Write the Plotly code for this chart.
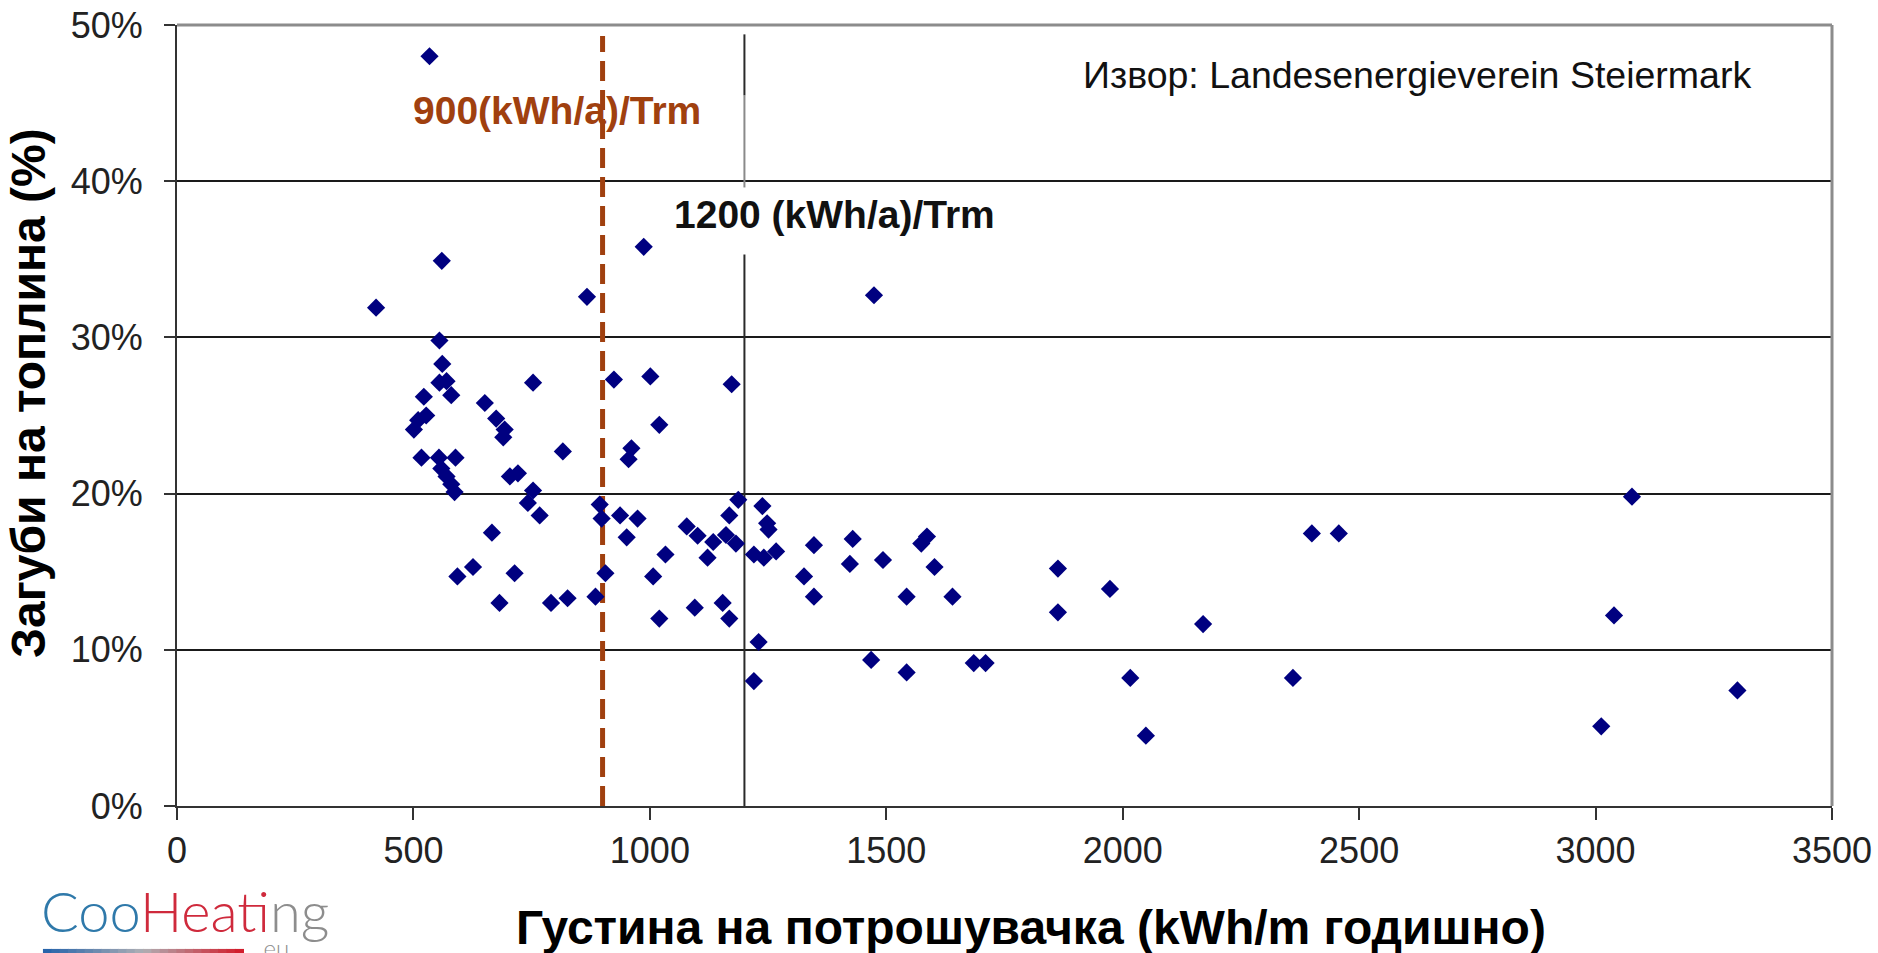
import plotly.graph_objects as go

# ---- data ----
density = [421, 534, 560, 555, 561, 555, 570, 580, 522, 527, 510, 501,
           651, 675, 693, 690, 753, 816, 517, 554, 589, 559, 570, 580, 587,
           704, 721, 753, 742, 767, 894, 898, 666, 626, 593, 714, 682, 791,
           826, 885, 906, 867, 987, 924, 1001, 1020, 961, 955, 937, 974, 951,
           1033, 1007, 1020, 1095, 1078, 1101, 1134, 1161, 1182, 1173, 1187,
           1238, 1168, 1248, 1251, 1122, 1220, 1241, 1267, 1347, 1429, 1586,
           1574, 1326, 1423, 1493, 1602, 1863, 1973, 1347, 1543, 1640, 1863,
           2170, 1154, 1168, 1230, 1220, 1468, 1543, 1685, 1710, 2016, 2049,
           2360, 2400, 2457, 3077, 3039, 3012, 3300, 1474]
losses = [31.9, 48.0, 34.9, 29.8, 28.3, 27.1, 27.2, 26.3, 26.2, 25.0, 24.7, 24.1,
          25.8, 24.8, 24.1, 23.6, 27.1, 22.7, 22.3, 22.3, 22.3, 21.6, 21.1, 20.6, 20.1,
          21.1, 21.3, 20.2, 19.4, 18.6, 19.3, 18.4, 17.5, 15.3, 14.7, 14.9, 13.0, 13.0,
          13.3, 13.4, 14.9, 32.6, 35.8, 27.3, 27.5, 24.4, 22.9, 22.2, 18.6, 18.4, 17.2,
          16.1, 14.7, 12.0, 12.7, 17.9, 17.3, 16.9, 17.35, 16.8, 27.0, 19.6,
          19.2, 18.6, 18.1, 17.7, 15.9, 16.1, 15.9, 16.3, 16.7, 17.1, 17.25,
          16.8, 14.7, 15.5, 15.75, 15.3, 15.2, 13.9, 13.4, 13.4, 13.4, 12.4,
          11.65, 13.0, 12.0, 10.5, 8.0, 9.35, 8.55, 9.15, 9.15, 8.2, 4.5,
          8.2, 17.45, 17.45, 19.8, 12.2, 5.1, 7.4, 32.7]

x_ticks = [0, 500, 1000, 1500, 2000, 2500, 3000, 3500]
y_ticks = [0, 10, 20, 30, 40, 50]
y_tick_labels = ["0%", "10%", "20%", "30%", "40%", "50%"]

limit_low = 900
limit_high = 1200
limit_low_label = "900(kWh/a)/Trm"
limit_high_label = "1200 (kWh/a)/Trm"
source_label = "Извор: Landesenergieverein Steiermark"
x_title = "Густина на потрошувачка (kWh/m годишно)"
y_title = "Загуби на топлина (%)"

FONT = "Liberation Sans, Arial, Helvetica, sans-serif"
BROWN = "#A0400F"
NAVY = "#000080"

fig = go.Figure()
fig.add_trace(go.Scatter(
    x=density, y=losses, mode="markers",
    marker=dict(symbol="diamond", size=14, color=NAVY, line=dict(width=0)),
    hoverinfo="skip", showlegend=False,
))

shapes = []
# dashed 900 line
shapes.append(dict(type="line", xref="x", yref="y", x0=limit_low, x1=limit_low, y0=0, y1=49.3,
                   line=dict(color=BROWN, width=5, dash="20px,9px"), layer="between"))
# 1200 line segments (with gap behind the label)
shapes.append(dict(type="line", xref="x", yref="y", x0=limit_high, x1=limit_high, y0=0, y1=35.3,
                   line=dict(color="#2a2a2a", width=2), layer="between"))
shapes.append(dict(type="line", xref="x", yref="y", x0=limit_high, x1=limit_high, y0=39.6, y1=45.5,
                   line=dict(color="#8a8a8a", width=2), layer="between"))
shapes.append(dict(type="line", xref="x", yref="y", x0=limit_high, x1=limit_high, y0=45.5, y1=49.4,
                   line=dict(color="#2a2a2a", width=2), layer="between"))
# top and right frame (grey)
shapes.append(dict(type="line", xref="paper", yref="paper", x0=0, x1=1, y0=1, y1=1,
                   line=dict(color="#8c8c8c", width=3), layer="above"))
shapes.append(dict(type="line", xref="paper", yref="paper", x0=1, x1=1, y0=0, y1=1,
                   line=dict(color="#8c8c8c", width=3), layer="above"))

# logo gradient bar
n_seg = 24
bx0, bx1 = -0.081, 0.040
by0, by1 = -0.1905, -0.1830
def lerp(a, b, t):
    return tuple(int(round(a[i] + (b[i] - a[i]) * t)) for i in range(3))
c_blue, c_grey, c_red = (40, 100, 170), (175, 175, 180), (210, 30, 45)
for i in range(n_seg):
    t = i / (n_seg - 1)
    c = lerp(c_blue, c_grey, t * 2) if t < 0.5 else lerp(c_grey, c_red, (t - 0.5) * 2)
    xa = bx0 + (bx1 - bx0) * i / n_seg
    xb = bx0 + (bx1 - bx0) * (i + 1) / n_seg
    shapes.append(dict(type="rect", xref="paper", yref="paper", x0=xa, x1=xb + 0.0005,
                       y0=by0, y1=by1, line=dict(width=0),
                       fillcolor="rgb(%d,%d,%d)" % c, layer="above"))

annotations = [
    dict(text=limit_low_label, x=803, y=44.5, xref="x", yref="y", showarrow=False,
         font=dict(family=FONT, size=39, color=BROWN, weight="bold"), xanchor="center", yanchor="middle"),
    dict(text=limit_high_label, x=1391, y=37.85, xref="x", yref="y", showarrow=False,
         font=dict(family=FONT, size=39, color="#111111", weight="bold"), xanchor="center", yanchor="middle"),
    dict(text=source_label, x=2622, y=46.8, xref="x", yref="y", showarrow=False,
         font=dict(family=FONT, size=37.5, color="#111111"), xanchor="center", yanchor="middle"),
    dict(text=y_title, x=-0.090, y=0.5288, xref="paper", yref="paper", showarrow=False,
         textangle=-90, font=dict(family=FONT, size=48, color="#000000", weight="bold"),
         xanchor="center", yanchor="middle"),
    dict(text=x_title, x=0.5158, y=-0.155, xref="paper", yref="paper", showarrow=False,
         font=dict(family=FONT, size=48, color="#000000", weight="bold"),
         xanchor="center", yanchor="middle"),
    dict(text="<span style='color:#2f79aa'>Coo</span><span style='color:#cf2a3c'>Heat</span>"
              "<span style='color:#8d8d8d'>ing</span>",
         x=-0.0835, y=-0.088, xref="paper", yref="paper", showarrow=False,
         font=dict(family="Lato, Noto Sans, sans-serif", size=56, weight=300),
         xanchor="left", yanchor="top"),
    dict(text=".eu", x=0.048, y=-0.1595, xref="paper", yref="paper", showarrow=False,
         font=dict(family="Lato, Noto Sans, sans-serif", size=24, color="#8d8d8d", weight=300),
         xanchor="left", yanchor="top"),
]

fig.update_layout(
    width=1878, height=953,
    margin=dict(l=177, r=46, t=25, b=147, autoexpand=False),
    paper_bgcolor="white", plot_bgcolor="white",
    shapes=shapes, annotations=annotations,
    font=dict(family=FONT, color="#222222"),
    xaxis=dict(range=[0, 3500], tickvals=x_ticks, ticks="outside", ticklen=12, tickwidth=2,
               tickcolor="#333333", showline=True, linecolor="#333333", linewidth=2,
               showgrid=False, zeroline=False, tickfont=dict(size=36, color="#222222"),
               ticklabeloverflow="allow", automargin=False, fixedrange=True),
    yaxis=dict(range=[0, 50], tickvals=y_ticks, ticktext=y_tick_labels, ticks="outside",
               ticklen=11, tickwidth=2, tickcolor="#333333", showline=True,
               linecolor="#333333", linewidth=2, showgrid=True, gridcolor="#1a1a1a",
               gridwidth=1.7, zeroline=False, tickfont=dict(size=36, color="#222222"),
               ticklabelstandoff=14, ticklabeloverflow="allow", automargin=False,
               fixedrange=True),
)

fig.write_html(
    "out.html",
    config={"displayModeBar": False},
    post_script="document.body.style.margin='0';document.body.style.padding='0';"
                "document.body.style.overflow='hidden';",
)
